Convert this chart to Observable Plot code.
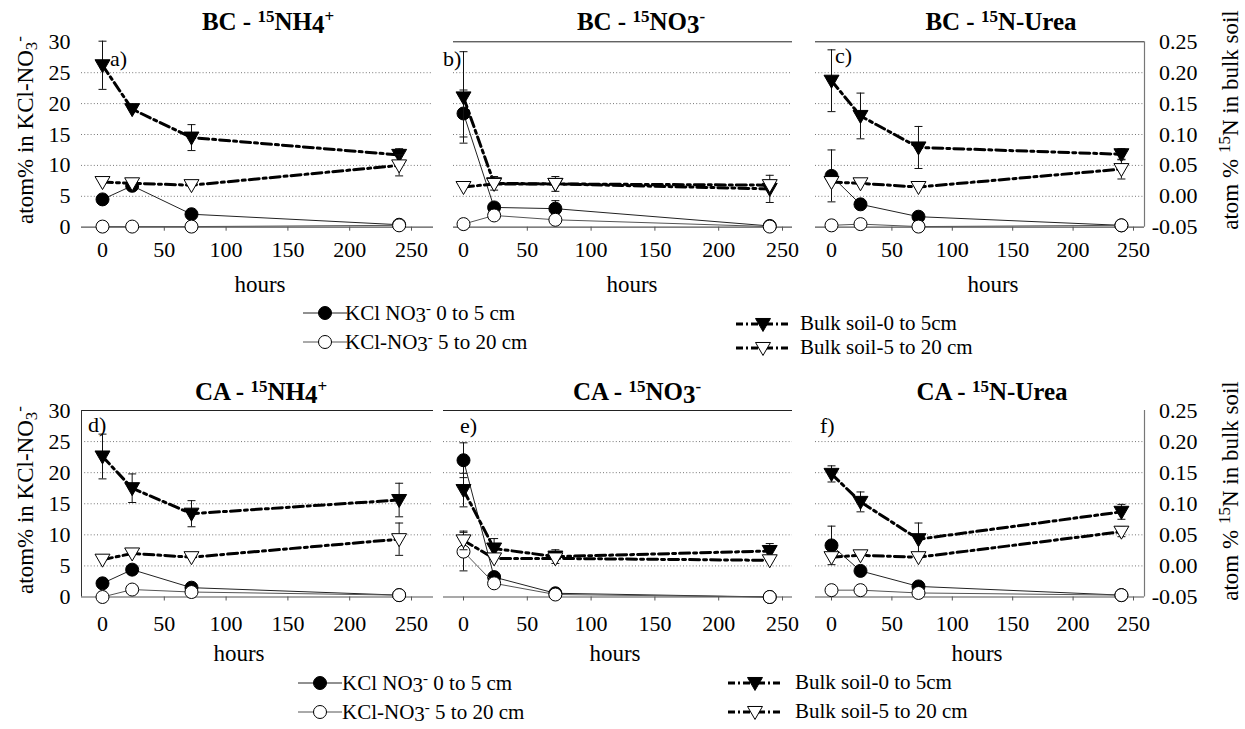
<!DOCTYPE html>
<html><head><meta charset="utf-8">
<script src="https://cdn.jsdelivr.net/npm/d3@7"></script>
<script src="https://cdn.jsdelivr.net/npm/@observablehq/plot@0.6"></script>
<style>
body{margin:0;background:#fff;}
#wrap{position:relative;width:1245px;height:729px;overflow:hidden;font-family:"Liberation Serif",serif;background:#fff;}
#wrap > svg, #wrap > figure{position:absolute;margin:0;}
#wrap svg, #wrap svg text, #wrap svg tspan{font-family:"Liberation Serif",serif !important;}
</style></head><body><div id="wrap"></div>
<script>
// ---------- data ----------
const hours = [0, 24, 72, 240];
const xTicks = [0, 50, 100, 150, 200, 250];
const leftTicks = [0, 5, 10, 15, 20, 25, 30];
const gridTicks = [5, 10, 15, 20, 25];
const rightTicks = [-0.05, 0.00, 0.05, 0.10, 0.15, 0.20, 0.25];
const panelLetters = ["a)", "b)", "c)", "d)", "e)", "f)"];

// KCl-NO3- atom% (left axis), panels a..f, at hours 0, 24, 72, 240
const kclTop = [
  [4.5, 6.7, 2.1, 0.4],
  [18.4, 3.2, 3.0, 0.2],
  [8.3, 3.7, 1.7, 0.3],
  [2.2, 4.4, 1.5, 0.3],
  [22.0, 3.2, 0.6, 0.0],
  [8.3, 4.2, 1.7, 0.3]
];
const kclTopErr = [
  [0, 0, 0, 0],
  [3.8, 0, 1.3, 0],
  [4.2, 0, 0, 0],
  [0, 0, 0, 0],
  [2.8, 0, 0, 0],
  [3.1, 0, 0, 0]
];
const kclSub = [
  [0.1, 0.1, 0.1, 0.3],
  [0.5, 1.9, 1.2, 0.1],
  [0.3, 0.5, 0.1, 0.3],
  [0.0, 1.2, 0.8, 0.3],
  [7.3, 2.2, 0.4, 0.0],
  [1.1, 1.1, 0.65, 0.3]
];
const kclSubErr = [
  [0, 0, 0, 0], [0, 0, 0, 0], [0, 0, 0, 0], [0, 0, 0, 0], [3.1, 0, 0, 0], [0, 0, 0, 0]
];
// atom % 15N in bulk soil (right axis)
const bulkTop = [
  [0.212, 0.141, 0.095, 0.067],
  [0.160, 0.021, 0.020, 0.012],
  [0.187, 0.130, 0.079, 0.068],
  [0.176, 0.125, 0.084, 0.106],
  [0.122, 0.028, 0.015, 0.024],
  [0.148, 0.103, 0.043, 0.087]
];
const bulkTopErr = [
  [0.039, 0, 0.021, 0.010],
  [0.074, 0.011, 0.012, 0.022],
  [0.050, 0.037, 0.034, 0.009],
  [0.036, 0.023, 0.021, 0.027],
  [0.027, 0.016, 0.011, 0.012],
  [0.013, 0.016, 0.026, 0.012]
];
const bulkSub = [
  [0.023, 0.021, 0.018, 0.050],
  [0.015, 0.020, 0.020, 0.018],
  [0.023, 0.021, 0.015, 0.044],
  [0.010, 0.020, 0.014, 0.043],
  [0.041, 0.012, 0.012, 0.009],
  [0.014, 0.017, 0.014, 0.055]
];
const bulkSubErr = [
  [0, 0, 0, 0.017],
  [0, 0, 0, 0],
  [0, 0, 0, 0.016],
  [0, 0, 0, 0.026],
  [0.015, 0, 0, 0],
  [0, 0, 0, 0.008]
];

// ---------- layout ----------
const colGeom = [
  {svgLeft: 0, svgWidth: 440, x0: 102, x250: 411},
  {svgLeft: 440, svgWidth: 360, x0: 463, x250: 782},
  {svgLeft: 800, svgWidth: 445, x0: 831, x250: 1133}
];
const frameEdges = [[81, 433], [453, 792], [815, 1144], [81, 433], [443, 792], [815, 1144]];
const rowGeom = [
  {top: 0, plotTop: 41.3, plotBottom: 226.7, tickPad: 10},
  {top: 370, plotTop: 410, plotBottom: 596.5, tickPad: 14}
];
const frameStyle = [
  {}, {top: true}, {top: true, right: true},
  {top: true, left: true}, {top: true}, {right: true}
];
const SVG_H = 300;
const FONT = '"Liberation Serif", serif';

// right axis (bulk soil) expressed on the left scale: -0.05 -> 0, 0.25 -> 30
const toLeft = v => (v + 0.05) * 100;

const triDown = {draw(ctx, size) {
  const r = Math.sqrt(size / Math.PI);
  const w = r * 1.15, t = r * 0.85, b = r * 1.15;
  ctx.moveTo(-w, -t); ctx.lineTo(w, -t); ctx.lineTo(0, b); ctx.closePath();
}};
const capSym = {draw(ctx, size) {
  const r = Math.sqrt(size / Math.PI);
  ctx.moveTo(-r, 0); ctx.lineTo(r, 0);
}};

const wrap = document.getElementById("wrap");

function seriesMarks(pts, opt) {
  const errs = pts.filter(d => d.e > 0);
  const caps = errs.flatMap(d => [{h: d.h, y: d.v - d.e}, {h: d.h, y: d.v + d.e}]);
  return [
    Plot.line(pts, {x: "h", y: "v", stroke: opt.lineColor, strokeWidth: opt.lineWidth, strokeDasharray: opt.dash}),
    Plot.ruleX(errs, {x: "h", y1: d => d.v - d.e, y2: d => d.v + d.e, stroke: "#111", strokeWidth: 1}),
    Plot.dot(caps, {x: "h", y: "y", symbol: capSym, r: 4, fill: "none", stroke: "#111", strokeWidth: 1}),
    Plot.dot(pts, {x: "h", y: "v", symbol: opt.symbol, r: opt.r, fill: opt.fill, stroke: "#000", strokeWidth: 1})
  ];
}

for (let i = 0; i < 6; i++) {
  const col = i % 3, row = Math.floor(i / 3);
  const cg = colGeom[col], rg = rowGeom[row];
  const [fL, fR] = frameEdges[i];
  const k = (cg.x250 - cg.x0) / 250;
  const xmin = (fL - cg.x0) / k, xmax = (fR - cg.x0) / k;
  const fs = frameStyle[i];

  const kT = hours.map((h, j) => ({h, v: kclTop[i][j], e: kclTopErr[i][j]}));
  const kS = hours.map((h, j) => ({h, v: kclSub[i][j], e: kclSubErr[i][j]}));
  const bT = hours.map((h, j) => ({h, v: toLeft(bulkTop[i][j]), e: bulkTopErr[i][j] * 100}));
  const bS = hours.map((h, j) => ({h, v: toLeft(bulkSub[i][j]), e: bulkSubErr[i][j] * 100}));

  const marks = [
    Plot.ruleY(gridTicks, {stroke: "#777", strokeWidth: 1, strokeDasharray: "1,2.2"})
  ];
  if (fs.top) marks.push(Plot.ruleY([30], {stroke: "#222", strokeWidth: 1}));
  if (fs.left) marks.push(Plot.ruleX([xmin], {stroke: "#333", strokeWidth: 1}));
  if (fs.right) marks.push(Plot.ruleX([xmax], {stroke: "#777", strokeWidth: 1.2}));
  marks.push(Plot.ruleY([0], {stroke: "#555", strokeWidth: 1.2}));
  marks.push(Plot.axisX(xTicks, {anchor: "bottom", tickSize: 4, tickPadding: rg.tickPad, label: null, stroke: "#555", fontSize: 22}));
  if (col === 0) marks.push(Plot.axisY(leftTicks, {anchor: "left", tickSize: 0, tickPadding: 11, label: null, fontSize: 22}));
  if (col === 2) marks.push(Plot.text(rightTicks, {y: d => toLeft(d), text: d => d.toFixed(2), frameAnchor: "right", dx: 53, textAnchor: "end", fill: "#000", fontSize: 22}));

  marks.push(...seriesMarks(kT, {lineColor: "#222", lineWidth: 1, symbol: "circle", r: 6.5, fill: "#000"}));
  marks.push(...seriesMarks(kS, {lineColor: "#555", lineWidth: 1, symbol: "circle", r: 6.5, fill: "#fff"}));
  marks.push(...seriesMarks(bT, {lineColor: "#000", lineWidth: 3, dash: "10,4,3,4", symbol: triDown, r: 6.5, fill: "#000"}));
  marks.push(...seriesMarks(bS, {lineColor: "#000", lineWidth: 3, dash: "10,4,3,4", symbol: triDown, r: 6.5, fill: "#fff"}));

  const svg = Plot.plot({
    width: cg.svgWidth,
    height: SVG_H,
    marginLeft: fL - cg.svgLeft,
    marginRight: cg.svgLeft + cg.svgWidth - fR,
    marginTop: rg.plotTop - rg.top,
    marginBottom: rg.top + SVG_H - rg.plotBottom,
    x: {domain: [xmin, xmax], axis: null},
    y: {domain: [0, 30], axis: null},
    style: {fontFamily: FONT, fontSize: "22px", color: "#000", background: "transparent", overflow: "visible"},
    marks
  });
  svg.style.left = cg.svgLeft + "px";
  svg.style.top = rg.top + "px";
  wrap.appendChild(svg);
}

// ---------- overlay texts / legends ----------
const titles = [
  {x: 268, y: 30, soil: "BC", body: '<tspan font-size="17" dy="-8">15</tspan><tspan dy="8">NH</tspan><tspan dy="3">4</tspan><tspan font-size="17" dy="-11">+</tspan>'},
  {x: 641, y: 30, soil: "BC", body: '<tspan font-size="17" dy="-8">15</tspan><tspan dy="8">NO</tspan><tspan dy="3">3</tspan><tspan font-size="17" dy="-11">-</tspan>'},
  {x: 1001, y: 30, soil: "BC", body: '<tspan font-size="17" dy="-8">15</tspan><tspan dy="8">N-Urea</tspan>'},
  {x: 261, y: 400, soil: "CA", body: '<tspan font-size="17" dy="-8">15</tspan><tspan dy="8">NH</tspan><tspan dy="3">4</tspan><tspan font-size="17" dy="-11">+</tspan>'},
  {x: 637, y: 400, soil: "CA", body: '<tspan font-size="17" dy="-8">15</tspan><tspan dy="8">NO</tspan><tspan dy="3">3</tspan><tspan font-size="17" dy="-11">-</tspan>'},
  {x: 992, y: 400, soil: "CA", body: '<tspan font-size="17" dy="-8">15</tspan><tspan dy="8">N-Urea</tspan>'}
];
const letterPos = [[110, 66], [443, 66], [835, 63], [88, 432], [460, 433], [820, 433]];
const hoursPos = [[260, 292], [632, 292], [993, 292], [239, 661], [615, 661], [977, 661]];

let o = '';
titles.forEach(t => {
  o += `<text x="${t.x}" y="${t.y}" text-anchor="middle" font-weight="bold" font-size="25">${t.soil} - ${t.body}</text>`;
});
letterPos.forEach((p, i) => { o += `<text x="${p[0]}" y="${p[1]}" font-size="22">${panelLetters[i]}</text>`; });
hoursPos.forEach(p => { o += `<text x="${p[0]}" y="${p[1]}" text-anchor="middle" font-size="23">hours</text>`; });
[130, 500].forEach(cy => {
  o += `<text transform="translate(33,${cy}) rotate(-90)" text-anchor="middle" font-size="23">atom% in KCl-NO<tspan font-size="17" dy="4">3</tspan><tspan font-size="17" dy="-12">-</tspan></text>`;
});
[120, 491].forEach(cy => {
  o += `<text transform="translate(1238,${cy}) rotate(-90)" text-anchor="middle" font-size="23">atom % <tspan font-size="17" dy="-8">15</tspan><tspan dy="8">N in bulk soil</tspan></text>`;
});

const legendRows = [
  {cx: 325, tx: 345, y1: 313, y2: 342, bx: 763, btx: 800, by1: 324, by2: 348},
  {cx: 320, tx: 342, y1: 683, y2: 712, bx: 755, btx: 795, by1: 683, by2: 712}
];
const tri = (cx, cy, fill) => {
  const r = 6.5, w = r * 1.15, t = r * 0.85, b = r * 1.15;
  return `<path d="M${cx - w},${cy - t}L${cx + w},${cy - t}L${cx},${cy + b}Z" fill="${fill}" stroke="#000" stroke-width="1"/>`;
};
legendRows.forEach(L => {
  o += `<line x1="${L.cx - 22}" x2="${L.cx + 22}" y1="${L.y1}" y2="${L.y1}" stroke="#222" stroke-width="1"/>`;
  o += `<circle cx="${L.cx}" cy="${L.y1}" r="6.5" fill="#000" stroke="#000"/>`;
  o += `<text x="${L.tx}" y="${L.y1 + 7}" font-size="21">KCl NO<tspan dy="2">3</tspan><tspan font-size="15" dy="-9">-</tspan><tspan dy="7"> 0 to 5 cm</tspan></text>`;
  o += `<line x1="${L.cx - 22}" x2="${L.cx + 22}" y1="${L.y2}" y2="${L.y2}" stroke="#555" stroke-width="1"/>`;
  o += `<circle cx="${L.cx}" cy="${L.y2}" r="6.5" fill="#fff" stroke="#000"/>`;
  o += `<text x="${L.tx}" y="${L.y2 + 7}" font-size="21">KCl-NO<tspan dy="2">3</tspan><tspan font-size="15" dy="-9">-</tspan><tspan dy="7"> 5 to 20 cm</tspan></text>`;
  o += `<line x1="${L.bx - 27}" x2="${L.bx + 25}" y1="${L.by1}" y2="${L.by1}" stroke="#000" stroke-width="3" stroke-dasharray="7,3,2,3"/>`;
  o += tri(L.bx, L.by1, "#000");
  o += `<text x="${L.btx}" y="${L.by1 + 6}" font-size="21">Bulk soil-0 to 5cm</text>`;
  o += `<line x1="${L.bx - 27}" x2="${L.bx + 25}" y1="${L.by2}" y2="${L.by2}" stroke="#000" stroke-width="3" stroke-dasharray="7,3,2,3"/>`;
  o += tri(L.bx, L.by2, "#fff");
  o += `<text x="${L.btx}" y="${L.by2 + 6}" font-size="21">Bulk soil-5 to 20 cm</text>`;
});

const ov = document.createElementNS("http://www.w3.org/2000/svg", "svg");
ov.setAttribute("width", 1245);
ov.setAttribute("height", 729);
ov.style.fontFamily = FONT;
ov.style.left = "0px"; ov.style.top = "0px"; ov.style.pointerEvents = "none";
ov.innerHTML = o;
wrap.appendChild(ov);
</script></body></html>
